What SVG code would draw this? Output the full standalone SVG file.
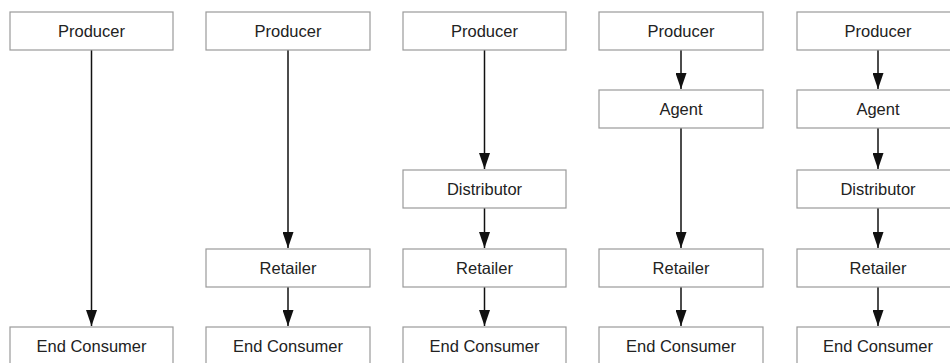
<svg xmlns="http://www.w3.org/2000/svg" width="950" height="363" viewBox="0 0 950 363">
  <style>
    .box { fill: #ffffff; stroke: #9a9a9a; stroke-width: 1.2; }
    .lbl { font-family: "Liberation Sans", Arial, sans-serif; font-size: 16.5px; fill: #222222; text-anchor: middle; dominant-baseline: central; }
    .flow { stroke: #111111; stroke-width: 1.5; fill: none; marker-end: url(#head); }
  </style>
  <defs>
    <marker id="head" viewBox="0 0 16 11" refX="16" refY="5.5" markerWidth="16" markerHeight="11" markerUnits="userSpaceOnUse" orient="auto">
      <path d="M0,0 L16,5.5 L0,11 Z" fill="#111111"/>
    </marker>
  </defs>
  <rect width="950" height="363" fill="#ffffff"/>

  <!-- connectors -->
  <g id="connectors">
    <!-- column 1 -->
    <line class="flow" x1="91.5" y1="50" x2="91.5" y2="326"/>
    <!-- column 2 -->
    <line class="flow" x1="288" y1="50" x2="288" y2="248"/>
    <line class="flow" x1="288" y1="287" x2="288" y2="326"/>
    <!-- column 3 -->
    <line class="flow" x1="484.5" y1="50" x2="484.5" y2="169"/>
    <line class="flow" x1="484.5" y1="208" x2="484.5" y2="248"/>
    <line class="flow" x1="484.5" y1="287" x2="484.5" y2="326"/>
    <!-- column 4 -->
    <line class="flow" x1="681" y1="50" x2="681" y2="89"/>
    <line class="flow" x1="681" y1="128" x2="681" y2="248"/>
    <line class="flow" x1="681" y1="287" x2="681" y2="326"/>
    <!-- column 5 -->
    <line class="flow" x1="878" y1="50" x2="878" y2="89"/>
    <line class="flow" x1="878" y1="128" x2="878" y2="169"/>
    <line class="flow" x1="878" y1="208" x2="878" y2="248"/>
    <line class="flow" x1="878" y1="287" x2="878" y2="326"/>
  </g>

  <!-- column 1 -->
  <g id="c1-producer"><rect class="box" x="10" y="12" width="163" height="38"/><text class="lbl" x="91.5" y="31">Producer</text></g>
  <g id="c1-consumer"><rect class="box" x="10" y="327" width="163" height="38"/><text class="lbl" x="91.5" y="346">End Consumer</text></g>

  <!-- column 2 -->
  <g id="c2-producer"><rect class="box" x="206" y="12" width="164" height="38"/><text class="lbl" x="288" y="31">Producer</text></g>
  <g id="c2-retailer"><rect class="box" x="206" y="249" width="164" height="38"/><text class="lbl" x="288" y="268">Retailer</text></g>
  <g id="c2-consumer"><rect class="box" x="206" y="327" width="164" height="38"/><text class="lbl" x="288" y="346">End Consumer</text></g>

  <!-- column 3 -->
  <g id="c3-producer"><rect class="box" x="403" y="12" width="163" height="38"/><text class="lbl" x="484.5" y="31">Producer</text></g>
  <g id="c3-distributor"><rect class="box" x="403" y="170" width="163" height="38"/><text class="lbl" x="484.5" y="189">Distributor</text></g>
  <g id="c3-retailer"><rect class="box" x="403" y="249" width="163" height="38"/><text class="lbl" x="484.5" y="268">Retailer</text></g>
  <g id="c3-consumer"><rect class="box" x="403" y="327" width="163" height="38"/><text class="lbl" x="484.5" y="346">End Consumer</text></g>

  <!-- column 4 -->
  <g id="c4-producer"><rect class="box" x="599" y="12" width="164" height="38"/><text class="lbl" x="681" y="31">Producer</text></g>
  <g id="c4-agent"><rect class="box" x="599" y="90" width="164" height="38"/><text class="lbl" x="681" y="109">Agent</text></g>
  <g id="c4-retailer"><rect class="box" x="599" y="249" width="164" height="38"/><text class="lbl" x="681" y="268">Retailer</text></g>
  <g id="c4-consumer"><rect class="box" x="599" y="327" width="164" height="38"/><text class="lbl" x="681" y="346">End Consumer</text></g>

  <!-- column 5 -->
  <g id="c5-producer"><rect class="box" x="797" y="12" width="163" height="38"/><text class="lbl" x="878" y="31">Producer</text></g>
  <g id="c5-agent"><rect class="box" x="797" y="90" width="163" height="38"/><text class="lbl" x="878" y="109">Agent</text></g>
  <g id="c5-distributor"><rect class="box" x="797" y="170" width="163" height="38"/><text class="lbl" x="878" y="189">Distributor</text></g>
  <g id="c5-retailer"><rect class="box" x="797" y="249" width="163" height="38"/><text class="lbl" x="878" y="268">Retailer</text></g>
  <g id="c5-consumer"><rect class="box" x="797" y="327" width="163" height="38"/><text class="lbl" x="878" y="346">End Consumer</text></g>
</svg>
